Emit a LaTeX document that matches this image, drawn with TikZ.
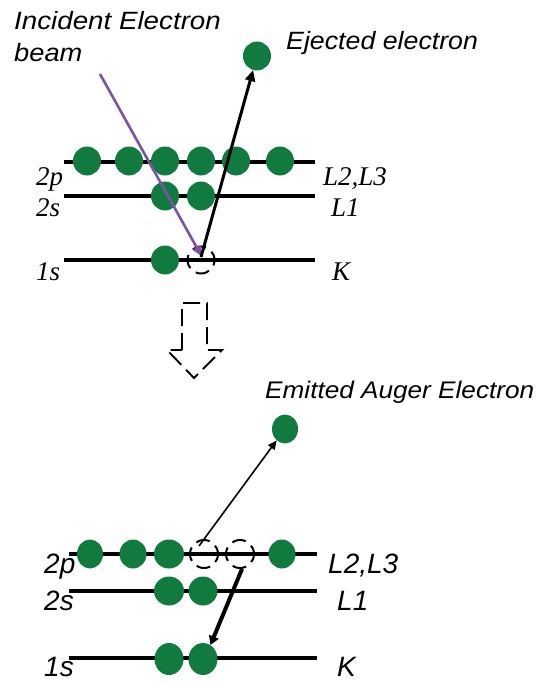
\documentclass[tikz,border=0pt]{standalone}
\usepackage{fontspec}
\setmainfont{Liberation Serif}
\newfontfamily\lsans{Liberation Sans}
\usetikzlibrary{shapes.geometric,arrows.meta}
\definecolor{egreen}{RGB}{17,122,62}
\definecolor{beamc}{RGB}{125,81,168}
\begin{document}
\begin{tikzpicture}[x=1pt,y=-1pt,
  el/.style={ellipse, fill=egreen, inner sep=0pt, minimum width=28pt, minimum height=29pt},
  elk/.style={el, minimum height=32pt},
  hole/.style={circle, draw, line width=2pt, dash pattern=on 14pt off 7pt, dash phase=5pt, minimum size=27pt, inner sep=0pt},
  level/.style={line width=3.2pt},
  toplab/.style={font=\fontsize{27pt}{30pt}\selectfont\itshape, anchor=base west, inner sep=0pt},
  botlab/.style={font=\lsans\fontsize{28pt}{30pt}\selectfont\itshape, anchor=base west, inner sep=0pt},
  caplab/.style={font=\lsans\fontsize{25pt}{30pt}\selectfont\itshape, anchor=base west, inner sep=0pt},
  downarrow/.style={line width=1.9pt, dash pattern=on 17pt off 7pt, line join=miter}
]
\useasboundingbox (0,0) rectangle (544,682);

% ---------- top diagram ----------
\coordinate (t2pL) at (64,162);  \coordinate (t2pR) at (315,162);
\coordinate (t2sL) at (64,196);  \coordinate (t2sR) at (315,196);
\coordinate (t1sL) at (64,260);  \coordinate (t1sR) at (315,260);
\draw[level] (t2pL) -- (t2pR);
\draw[level] (t2sL) -- (t2sR);
\draw[level] (t1sL) -- (t1sR);

\node[el] (tp1) at (87,161) {};
\node[el] (tp2) at (129,161) {};
\node[el] (tp3) at (165,161) {};
\node[el] (tp4) at (201,161) {};
\node[el] (tp5) at (236,161) {};
\node[el] (tp6) at (280,161) {};
\node[el] (ts1) at (165,196) {};
\node[el] (ts2) at (201,196) {};
\node[el] (tk1) at (165,260) {};
\node[el] (ej) at (257,56) {};
\node[hole] (th) at (201,260) {};

\coordinate (beamstart) at (100,74);
\draw[beamc, line width=2.6pt, -{Triangle[length=10pt,width=9pt]}, shorten >=1pt] (beamstart) -- ([shift={(1,-3)}]th.center);
\draw[line width=3pt, -{Triangle[length=11pt,width=10pt]}] ([shift={(0,-3)}]th.center) -- (ej);

\node[caplab] (inc1) at (14,30) {\scalebox{1.11}[1]{Incident Electron}};
\node[caplab] (inc2) at (14,62) {\scalebox{1.09}[1]{beam}};
\node[caplab] (ejl) at (286,50) {\scalebox{1.07}[1]{Ejected electron}};

\node[toplab] (l2p) at (36,185) {2p};
\node[toplab] (l2s) at (36,216) {2s};
\node[toplab] (l1s) at (36,280) {1s};
\node[toplab] (rL23) at (323,185) {L2,L3};
\node[toplab] (rL1) at (331,216) {L1};
\node[toplab] (rK) at (332,280) {K};

% ---------- transition arrow ----------
\draw[downarrow] (182,350) -- (182,303) -- (207,303) -- (207,350) -- (222,350) -- (194,378) -- (167,350) -- cycle;

% ---------- bottom diagram ----------
\coordinate (b2pL) at (69,554);  \coordinate (b2pR) at (317,554);
\coordinate (b2sL) at (69,591);  \coordinate (b2sR) at (317,591);
\coordinate (b1sL) at (69,658);  \coordinate (b1sR) at (317,658);
\draw[level] (b2pL) -- (b2pR);
\draw[level] (b2sL) -- (b2sR);
\draw[level] (b1sL) -- (b1sR);

\node[el, minimum width=26pt] (bp1) at (90,554) {};
\node[el, minimum width=27pt] (bp2) at (133,554) {};
\node[el, minimum width=30pt] (bp3) at (169,554) {};
\node[el, minimum width=27pt] (bp4) at (282,554) {};
\node[el, minimum width=30pt] (bs1) at (169,591) {};
\node[el, minimum width=29pt] (bs2) at (203,591) {};
\node[elk, minimum width=29pt] (bk1) at (169,659) {};
\node[elk, minimum width=29pt] (bk2) at (203,659) {};
\node[el, minimum width=26pt] (em) at (285,429) {};
\node[hole, minimum size=28pt] (bh1) at (204,554) {};
\node[hole, minimum size=28pt] (bh2) at (240,554) {};

\coordinate (a1) at (199,546);
\coordinate (a2) at (242,569);
\draw[line width=1.6pt, -{Triangle[length=9pt,width=8pt]}] (a1) -- (em);
\draw[line width=4pt, -{Triangle[length=9pt,width=10pt]}] (a2) -- (bk2.62);

\node[caplab, font=\lsans\fontsize{24pt}{28pt}\selectfont\itshape] (eml) at (265,398) {\scalebox{1.09}[1]{Emitted Auger Electron}};

\node[botlab] (b2p) at (44,573) {2p};
\node[botlab] (b2s) at (44,610) {2s};
\node[botlab] (b1s) at (44,676) {1s};
\node[botlab] (bL23) at (328,573) {L2,L3};
\node[botlab] (bL1) at (337,610) {L1};
\node[botlab] (bK) at (337,676) {K};
\end{tikzpicture}
\end{document}
